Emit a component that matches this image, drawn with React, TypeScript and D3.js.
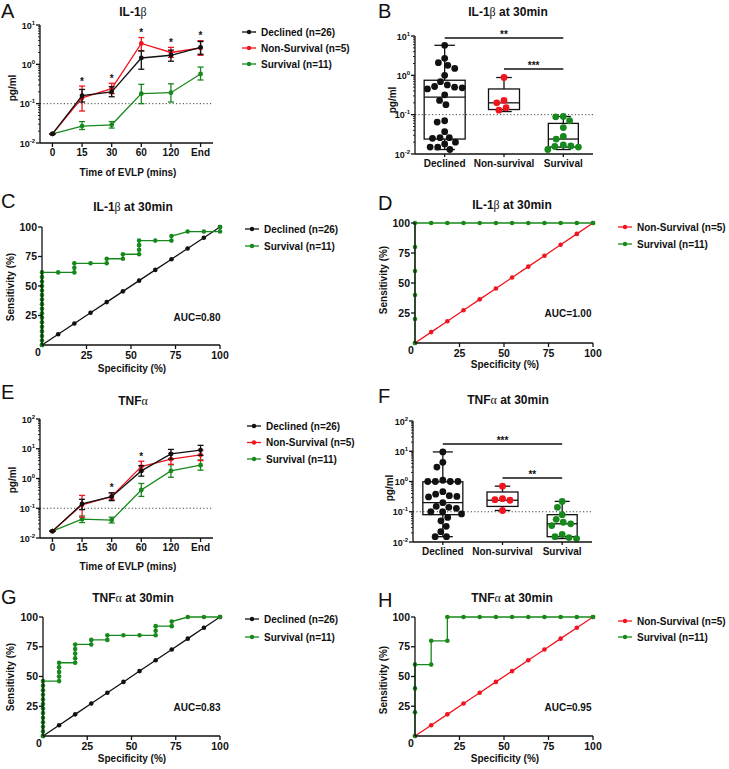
import React from 'react';
import * as d3 from 'd3';

const FONT = 'Arial, "Liberation Sans", Helvetica, sans-serif';
const C_BLACK = '#111';
const C_RED = '#f0141e';
const C_GREEN = '#17891c';

// ---- time course data (panels A, E) ----
const TIMES = ['0', '15', '30', '60', '120', 'End'];

const IL1B_DECL = [0.017, 0.16, 0.2, 1.45, 1.7, 2.7];
const IL1B_DECL_LO = [0.017, 0.11, 0.15, 0.75, 1.2, 1.8];
const IL1B_DECL_HI = [0.017, 0.23, 0.27, 2.2, 2.3, 3.8];
const IL1B_NONS = [0.017, 0.14, 0.24, 3.4, 2.0, 2.6];
const IL1B_NONS_LO = [0.017, 0.065, 0.18, 2.2, 1.5, 1.7];
const IL1B_NONS_HI = [0.017, 0.28, 0.33, 4.8, 2.7, 4.0];
const IL1B_SURV = [0.017, 0.027, 0.029, 0.18, 0.19, 0.57];
const IL1B_SURV_LO = [0.017, 0.022, 0.024, 0.1, 0.11, 0.4];
const IL1B_SURV_HI = [0.017, 0.035, 0.035, 0.31, 0.32, 0.85];
const IL1B_STARS = ['15', '30', '60', '120', 'End'];

const TNF_DECL = [0.017, 0.14, 0.245, 1.8, 6.7, 9.0];
const TNF_DECL_LO = [0.017, 0.09, 0.18, 1.2, 4.5, 6.0];
const TNF_DECL_HI = [0.017, 0.2, 0.33, 2.7, 9.5, 13];
const TNF_NONS = [0.017, 0.13, 0.25, 2.5, 4.5, 6.2];
const TNF_NONS_LO = [0.017, 0.05, 0.2, 1.8, 3.0, 4.0];
const TNF_NONS_HI = [0.017, 0.27, 0.33, 3.8, 7.0, 9.0];
const TNF_SURV = [0.017, 0.043, 0.04, 0.41, 1.8, 2.8];
const TNF_SURV_LO = [0.017, 0.033, 0.032, 0.25, 1.1, 1.9];
const TNF_SURV_HI = [0.017, 0.055, 0.05, 0.68, 2.9, 4.2];
const TNF_STARS = ['30', '60'];

// ---- 30 min scatter / box data (panels B, F) ----
const GROUPS = ['Declined', 'Non-survival', 'Survival'];

const B_DECL = [5.8, 2.7, 2.1, 1.8, 1.5, 1.0, 0.69, 0.57, 0.52, 0.5, 0.48, 0.45, 0.32, 0.23, 0.18,
  0.07, 0.065, 0.037, 0.026, 0.025, 0.026, 0.02, 0.018, 0.015, 0.015, 0.013];
const B_NONS = [0.88, 0.23, 0.2, 0.15, 0.13];
const B_SURV = [0.09, 0.088, 0.07, 0.047, 0.028, 0.024, 0.017, 0.0155, 0.015, 0.016, 0.013];
// min, q1, median, q3, max
const B_DECL_BOX = [0.013, 0.024, 0.28, 0.75, 5.8];
const B_NONS_BOX = [0.12, 0.135, 0.2, 0.45, 0.88];
const B_SURV_BOX = [0.013, 0.015, 0.024, 0.06, 0.09];

const F_DECL = [9.5, 4.3, 3.0, 1.0, 1.0, 1.0, 1.0, 1.1, 0.46, 0.38, 0.34, 0.32, 0.31, 0.2, 0.15,
  0.14, 0.13, 0.1, 0.1, 0.085, 0.065, 0.05, 0.033, 0.022, 0.015, 0.015];
const F_NONS = [0.7, 0.27, 0.25, 0.24, 0.11];
const F_SURV = [0.22, 0.14, 0.08, 0.056, 0.045, 0.04, 0.035, 0.018, 0.015, 0.014, 0.013];
const F_DECL_BOX = [0.015, 0.08, 0.2, 0.98, 9.5];
const F_NONS_BOX = [0.11, 0.15, 0.24, 0.45, 0.7];
const F_SURV_BOX = [0.013, 0.015, 0.04, 0.08, 0.22];

// ---- ROC data (panels C, D, G, H) ----
const ROC_DIAG = [0, 9.09, 18.18, 27.27, 36.36, 45.45, 54.55, 63.64, 72.73, 81.82, 90.91, 100];

const C_SURV_X = [0, 0, 0, 0, 0, 0, 0, 0, 0, 0, 0, 0, 0, 0, 0, 0, 0,
  9.09, 18.18, 18.18, 18.18, 27.27, 36.36, 36.36, 45.45, 45.45, 54.55, 54.55, 54.55, 54.55,
  63.64, 72.73, 72.73, 81.82, 90.91, 100, 100];
const C_SURV_Y = [0, 3.85, 7.69, 11.54, 15.38, 19.23, 23.08, 26.92, 30.77, 34.62, 38.46, 42.31, 46.15, 50, 53.85, 57.69, 61.54,
  61.54, 61.54, 65.38, 69.23, 69.23, 69.23, 73.08, 73.08, 76.92, 76.92, 80.77, 84.62, 88.46,
  88.46, 88.46, 92.31, 96.15, 96.15, 96.15, 100];

const D_SURV_X = [0, 0, 0, 0, 0, 0, 9.09, 18.18, 27.27, 36.36, 45.45, 54.55, 63.64, 72.73, 81.82, 90.91, 100];
const D_SURV_Y = [0, 20, 40, 60, 80, 100, 100, 100, 100, 100, 100, 100, 100, 100, 100, 100, 100];

const G_SURV_X = [0, 0, 0, 0, 0, 0, 0, 0, 0, 0, 0, 0, 0,
  9.09, 9.09, 9.09, 9.09, 9.09, 18.18, 18.18, 18.18, 18.18, 18.18, 27.27, 27.27, 36.36, 36.36,
  45.45, 54.55, 63.64, 63.64, 63.64, 72.73, 72.73, 81.82, 90.91, 100];
const G_SURV_Y = [0, 3.85, 7.69, 11.54, 15.38, 19.23, 23.08, 26.92, 30.77, 34.62, 38.46, 42.31, 46.15,
  46.15, 50, 53.85, 57.69, 61.54, 61.54, 65.38, 69.23, 73.08, 76.92, 76.92, 80.77, 80.77, 84.62,
  84.62, 84.62, 84.62, 88.46, 92.31, 92.31, 96.15, 100, 100, 100];

const H_SURV_X = [0, 0, 0, 0, 9.09, 9.09, 18.18, 18.18, 27.27, 36.36, 45.45, 54.55, 63.64, 72.73, 81.82, 90.91, 100];
const H_SURV_Y = [0, 20, 40, 60, 60, 80, 80, 100, 100, 100, 100, 100, 100, 100, 100, 100, 100];

const SW = 1.3;

function Title({ x, y, pre, greek, post }: any) {
  return (
    <text x={x} y={y} textAnchor="middle" fontSize={12} fontWeight="bold">
      {pre}
      <tspan fontWeight="normal" fontFamily='"Liberation Serif", "DejaVu Serif", serif'>{greek}</tspan>
      {post}
    </text>
  );
}

function Letter({ x, y, t }: any) {
  return <text x={x} y={y} fontSize={20} fontWeight="normal">{t}</text>;
}

function YTitle({ x, y, t }: any) {
  return (
    <text transform={`translate(${x},${y}) rotate(-90)`} textAnchor="middle" fontSize={10} fontWeight="bold" dy="0.35em">{t}</text>
  );
}

function Legend({ x, y, dy, items }: any) {
  return (
    <g>
      {items.map((it: any, i: number) => (
        <g key={i} transform={`translate(${x},${y + i * dy})`}>
          <line x1={0} x2={14} y1={0} y2={0} stroke={it.color} strokeWidth={SW} />
          <circle cx={7} cy={0} r={2.2} fill={it.color} />
          <text x={19} y={3.5} fontSize={10} fontWeight="bold">{it.label}</text>
        </g>
      ))}
    </g>
  );
}

function LogYAxis({ y, x }: any) {
  const ticks: number[] = y.ticks();
  const isMajor = (v: number) => Math.abs(Math.log10(v) - Math.round(Math.log10(v))) < 1e-6;
  const [lo, hi] = y.domain();
  return (
    <g>
      <line x1={x} x2={x} y1={y(hi)} y2={y(lo)} stroke={C_BLACK} strokeWidth={SW} />
      {ticks.map((v, i) => isMajor(v) ? (
        <g key={i}>
          <line x1={x - 4} x2={x} y1={y(v)} y2={y(v)} stroke={C_BLACK} strokeWidth={SW} />
          <text x={x - 5} y={y(v) + 3.5} textAnchor="end" fontSize={9} fontWeight="bold">
            10<tspan dy={-4} fontSize={6}>{Math.round(Math.log10(v))}</tspan>
          </text>
        </g>
      ) : (
        <line key={i} x1={x - 2} x2={x} y1={y(v)} y2={y(v)} stroke={C_BLACK} strokeWidth={0.9} />
      ))}
    </g>
  );
}

function LinePanel({ f, series, stars }: any) {
  const x = d3.scalePoint<string>().domain(TIMES).range([f.x0, f.x1]).padding(0.42);
  const y = d3.scaleLog().domain(f.domain).range([f.yBot, f.yTop]);
  const line = d3.line<number>().x((_, i) => x(TIMES[i])!).y(d => y(d));
  const drawOrder = [...series].reverse();
  return (
    <g>
      <Letter x={f.letter[0]} y={f.letter[1]} t={f.letterText} />
      <Title x={f.title[0]} y={f.title[1]} pre={f.titleText[0]} greek={f.titleText[1]} post={f.titleText[2]} />
      <line x1={f.x0} x2={f.x1} y1={y(0.1)} y2={y(0.1)} stroke="#444" strokeWidth={1} strokeDasharray="1.2,2.2" />
      {drawOrder.map((s: any, si: number) => (
        <g key={si}>
          <path d={line(s.values)!} fill="none" stroke={s.color} strokeWidth={SW} />
          {s.values.map((v: number, i: number) => {
            const cx = x(TIMES[i])!;
            return (
              <g key={i}>
                <line x1={cx} x2={cx} y1={y(s.lo[i])} y2={y(s.hi[i])} stroke={s.color} strokeWidth={SW} />
                <line x1={cx - 3} x2={cx + 3} y1={y(s.lo[i])} y2={y(s.lo[i])} stroke={s.color} strokeWidth={SW} />
                <line x1={cx - 3} x2={cx + 3} y1={y(s.hi[i])} y2={y(s.hi[i])} stroke={s.color} strokeWidth={SW} />
                <circle cx={cx} cy={y(v)} r={2.4} fill={s.color} />
              </g>
            );
          })}
        </g>
      ))}
      {stars.map((t: string) => {
        const i = TIMES.indexOf(t);
        const top = Math.max(...series.map((s: any) => s.hi[i]));
        return <text key={t} x={x(t)!} y={y(top) - 1.5} textAnchor="middle" fontSize={10} fontWeight="bold">*</text>;
      })}
      <LogYAxis y={y} x={f.x0} />
      <line x1={f.x0} x2={f.x1} y1={f.yBot} y2={f.yBot} stroke={C_BLACK} strokeWidth={SW} />
      {TIMES.map(t => (
        <g key={t}>
          <line x1={x(t)!} x2={x(t)!} y1={f.yBot} y2={f.yBot + 4} stroke={C_BLACK} strokeWidth={SW} />
          <text x={x(t)!} y={f.yBot + 13} textAnchor="middle" fontSize={10} fontWeight="bold">{t}</text>
        </g>
      ))}
      <text x={f.xTitle[0]} y={f.xTitle[1]} textAnchor="middle" fontSize={10} fontWeight="bold">Time of EVLP (mins)</text>
      <YTitle x={f.yTitle[0]} y={f.yTitle[1]} t="pg/ml" />
      <Legend x={f.legend[0]} y={f.legend[1]} dy={f.legend[2]}
        items={series.map((s: any) => ({ color: s.color, label: s.label }))} />
    </g>
  );
}

// simple beeswarm: horizontal dodge so dots don't overlap
function swarm(vals: number[], y: any, D: number) {
  const order = vals.map((v, i) => ({ i, py: y(v) })).sort((a, b) => a.py - b.py);
  const placed: { px: number; py: number }[] = [];
  const out: number[] = new Array(vals.length);
  for (const p of order) {
    const blocked: [number, number][] = [];
    for (const q of placed) {
      const dy = Math.abs(q.py - p.py);
      if (dy < D) {
        const w = Math.sqrt(D * D - dy * dy);
        blocked.push([q.px - w, q.px + w]);
      }
    }
    const cands = [0, ...blocked.flatMap(b => [b[0], b[1]])].sort((a, b) => Math.abs(a) - Math.abs(b));
    let px = 0;
    for (const c of cands) {
      if (!blocked.some(b => c > b[0] + 1e-6 && c < b[1] - 1e-6)) { px = c; break; }
    }
    placed.push({ px, py: p.py });
    out[p.i] = px;
  }
  return out;
}

function BoxPanel({ f, groups, sigs }: any) {
  const x = d3.scalePoint<string>().domain(GROUPS).range([f.x0, f.x1]).padding(0.5);
  const y = d3.scaleLog().domain(f.domain).range([f.yBot, f.yTop]);
  return (
    <g>
      <Letter x={f.letter[0]} y={f.letter[1]} t={f.letterText} />
      <Title x={f.title[0]} y={f.title[1]} pre={f.titleText[0]} greek={f.titleText[1]} post={f.titleText[2]} />
      <line x1={f.x0} x2={f.x1} y1={y(0.1)} y2={y(0.1)} stroke="#444" strokeWidth={1} strokeDasharray="1.2,2.2" />
      {groups.map((g: any, gi: number) => {
        const cx = x(GROUPS[gi])!;
        const [mn, q1, md, q3, mx] = g.box.map((v: number) => y(v));
        const w = f.boxW[gi];
        const offs = swarm(g.values, y, 7.6);
        return (
          <g key={gi}>
            <line x1={cx} x2={cx} y1={mx} y2={q3} stroke={C_BLACK} strokeWidth={SW} />
            <line x1={cx} x2={cx} y1={q1} y2={mn} stroke={C_BLACK} strokeWidth={SW} />
            <line x1={cx - w / 4} x2={cx + w / 4} y1={mx} y2={mx} stroke={C_BLACK} strokeWidth={SW} />
            <line x1={cx - w / 4} x2={cx + w / 4} y1={mn} y2={mn} stroke={C_BLACK} strokeWidth={SW} />
            <rect x={cx - w / 2} y={q3} width={w} height={q1 - q3} fill="none" stroke={C_BLACK} strokeWidth={SW} />
            <line x1={cx - w / 2} x2={cx + w / 2} y1={md} y2={md} stroke={C_BLACK} strokeWidth={SW} />
            {g.values.map((v: number, i: number) => (
              <circle key={i} cx={cx + offs[i]} cy={y(v)} r={3.4} fill={g.color} />
            ))}
          </g>
        );
      })}
      {sigs.map((s: any, i: number) => {
        const xa = x(GROUPS[s.from])!;
        const xb = x(GROUPS[s.to])!;
        return (
          <g key={i}>
            <line x1={xa} x2={xb} y1={s.y} y2={s.y} stroke={C_BLACK} strokeWidth={SW} />
            <text x={(xa + xb) / 2} y={s.y - 0.5} textAnchor="middle" fontSize={10} fontWeight="bold">{s.text}</text>
          </g>
        );
      })}
      <LogYAxis y={y} x={f.x0} />
      <line x1={f.x0} x2={f.x1} y1={f.yBot} y2={f.yBot} stroke={C_BLACK} strokeWidth={SW} />
      {GROUPS.map(gname => (
        <g key={gname}>
          <line x1={x(gname)!} x2={x(gname)!} y1={f.yBot} y2={f.yBot + 3} stroke={C_BLACK} strokeWidth={SW} />
          <text x={x(gname)!} y={f.yBot + 13} textAnchor="middle" fontSize={10} fontWeight="bold">{gname}</text>
        </g>
      ))}
      <YTitle x={f.yTitle[0]} y={f.yTitle[1]} t="pg/ml" />
    </g>
  );
}

function RocPanel({ f, refSeries, curve }: any) {
  const x = d3.scaleLinear().domain([0, 100]).range([f.x0, f.x1]);
  const y = d3.scaleLinear().domain([0, 100]).range([f.y0, f.y1]);
  const line = d3.line<[number, number]>().x(d => x(d[0])).y(d => y(d[1]));
  const refPts: [number, number][] = refSeries.xs.map((v: number, i: number) => [v, refSeries.ys[i]]);
  const curvePts: [number, number][] = curve.xs.map((v: number, i: number) => [v, curve.ys[i]]);
  const ticks = [25, 50, 75, 100];
  return (
    <g>
      <Letter x={f.letter[0]} y={f.letter[1]} t={f.letterText} />
      <Title x={f.title[0]} y={f.title[1]} pre={f.titleText[0]} greek={f.titleText[1]} post={f.titleText[2]} />
      <path d={line(refPts)!} fill="none" stroke={refSeries.color} strokeWidth={SW} />
      {refPts.map((p, i) => <circle key={i} cx={x(p[0])} cy={y(p[1])} r={2.3} fill={refSeries.color} />)}
      <path d={line(curvePts)!} fill="none" stroke={curve.color} strokeWidth={SW} />
      {curvePts.map((p, i) => <circle key={i} cx={x(p[0])} cy={y(p[1])} r={2.3} fill={curve.color} />)}
      <line x1={f.x0} x2={f.x0} y1={f.y0} y2={f.y1} stroke={C_BLACK} strokeWidth={SW} />
      <line x1={f.x0} x2={f.x1} y1={f.y0} y2={f.y0} stroke={C_BLACK} strokeWidth={SW} />
      {ticks.map(t => (
        <g key={t}>
          <line x1={f.x0 - 4} x2={f.x0} y1={y(t)} y2={y(t)} stroke={C_BLACK} strokeWidth={SW} />
          <text x={f.x0 - 5} y={y(t) + 3.6} textAnchor="end" fontSize={10.5} fontWeight="bold">{t}</text>
          <line x1={x(t)} x2={x(t)} y1={f.y0} y2={f.y0 + 4} stroke={C_BLACK} strokeWidth={SW} />
          <text x={x(t)} y={f.y0 + 13.5} textAnchor="middle" fontSize={10.5} fontWeight="bold">{t}</text>
        </g>
      ))}
      <text x={f.x0 - 4} y={f.y0 + 11} textAnchor="middle" fontSize={10.5} fontWeight="bold">0</text>
      <text x={f.xTitle[0]} y={f.xTitle[1]} textAnchor="middle" fontSize={10} fontWeight="bold">Specificity (%)</text>
      <YTitle x={f.yTitle[0]} y={f.yTitle[1]} t="Sensitivity (%)" />
      <text x={f.auc[0]} y={f.auc[1]} textAnchor="middle" fontSize={10} fontWeight="bold">{f.aucText}</text>
      <Legend x={f.legend[0]} y={f.legend[1]} dy={f.legend[2]}
        items={[{ color: refSeries.color, label: refSeries.label }, { color: curve.color, label: curve.label }]} />
    </g>
  );
}

export default function App() {
  const il1bSeries = [
    { label: 'Declined (n=26)', color: C_BLACK, values: IL1B_DECL, lo: IL1B_DECL_LO, hi: IL1B_DECL_HI },
    { label: 'Non-Survival (n=5)', color: C_RED, values: IL1B_NONS, lo: IL1B_NONS_LO, hi: IL1B_NONS_HI },
    { label: 'Survival (n=11)', color: C_GREEN, values: IL1B_SURV, lo: IL1B_SURV_LO, hi: IL1B_SURV_HI },
  ];
  const tnfSeries = [
    { label: 'Declined (n=26)', color: C_BLACK, values: TNF_DECL, lo: TNF_DECL_LO, hi: TNF_DECL_HI },
    { label: 'Non-Survival (n=5)', color: C_RED, values: TNF_NONS, lo: TNF_NONS_LO, hi: TNF_NONS_HI },
    { label: 'Survival (n=11)', color: C_GREEN, values: TNF_SURV, lo: TNF_SURV_LO, hi: TNF_SURV_HI },
  ];
  const bGroups = [
    { color: C_BLACK, values: B_DECL, box: B_DECL_BOX },
    { color: C_RED, values: B_NONS, box: B_NONS_BOX },
    { color: C_GREEN, values: B_SURV, box: B_SURV_BOX },
  ];
  const fGroups = [
    { color: C_BLACK, values: F_DECL, box: F_DECL_BOX },
    { color: C_RED, values: F_NONS, box: F_NONS_BOX },
    { color: C_GREEN, values: F_SURV, box: F_SURV_BOX },
  ];
  const declRef = { label: 'Declined (n=26)', color: C_BLACK, xs: ROC_DIAG, ys: ROC_DIAG };
  const nonsRef = { label: 'Non-Survival (n=5)', color: C_RED, xs: ROC_DIAG, ys: ROC_DIAG };
  const survLabel = 'Survival (n=11)';

  return (
    <svg width={729} height={769} style={{ position: 'absolute', left: 0, top: 0, background: '#fff' }}
      fontFamily={FONT} fill={C_BLACK}>
      <LinePanel
        f={{ x0: 40, x1: 213, yTop: 25, yBot: 143, domain: [0.01, 10], letter: [1, 18], letterText: 'A',
          title: [133, 16], titleText: ['IL-1', 'β', ''], xTitle: [128, 176], yTitle: [12, 88], legend: [242, 32, 16] }}
        series={il1bSeries} stars={IL1B_STARS} />
      <BoxPanel
        f={{ x0: 415, x1: 593, yTop: 36, yBot: 154, domain: [0.01, 10], letter: [378, 18], letterText: 'B',
          title: [508, 16], titleText: ['IL-1', 'β', ' at 30min'], yTitle: [392, 100], boxW: [41, 31, 30] }}
        groups={bGroups}
        sigs={[{ from: 0, to: 2, y: 38, text: '**' }, { from: 1, to: 2, y: 69, text: '***' }]} />
      <RocPanel
        f={{ x0: 42, x1: 220, y0: 345, y1: 227, letter: [1, 208], letterText: 'C', title: [133, 211],
          titleText: ['IL-1', 'β', ' at 30min'], xTitle: [132, 372], yTitle: [10, 287], auc: [197, 321],
          aucText: 'AUC=0.80', legend: [245, 229, 17] }}
        refSeries={declRef} curve={{ label: survLabel, color: C_GREEN, xs: C_SURV_X, ys: C_SURV_Y }} />
      <RocPanel
        f={{ x0: 415, x1: 593, y0: 343, y1: 223, letter: [378, 210], letterText: 'D', title: [512, 209],
          titleText: ['IL-1', 'β', ' at 30min'], xTitle: [505, 368], yTitle: [383, 280], auc: [568, 317],
          aucText: 'AUC=1.00', legend: [618, 227, 17] }}
        refSeries={nonsRef} curve={{ label: survLabel, color: C_GREEN, xs: D_SURV_X, ys: D_SURV_Y }} />
      <LinePanel
        f={{ x0: 40, x1: 213, yTop: 419, yBot: 538, domain: [0.01, 100], letter: [1, 399], letterText: 'E',
          title: [133, 405], titleText: ['TNF', 'α', ''], xTitle: [128, 570], yTitle: [12, 480], legend: [247, 426, 16.5] }}
        series={tnfSeries} stars={TNF_STARS} />
      <BoxPanel
        f={{ x0: 413, x1: 592, yTop: 421, yBot: 542, domain: [0.01, 100], letter: [378, 403], letterText: 'F',
          title: [508, 404], titleText: ['TNF', 'α', ' at 30min'], yTitle: [389, 488], boxW: [40, 31, 30] }}
        groups={fGroups}
        sigs={[{ from: 0, to: 2, y: 444, text: '***' }, { from: 1, to: 2, y: 478, text: '**' }]} />
      <RocPanel
        f={{ x0: 43, x1: 220, y0: 736, y1: 617, letter: [1, 604], letterText: 'G', title: [133, 602],
          titleText: ['TNF', 'α', ' at 30min'], xTitle: [132, 762], yTitle: [10, 677], auc: [197, 711],
          aucText: 'AUC=0.83', legend: [245, 619, 18] }}
        refSeries={declRef} curve={{ label: survLabel, color: C_GREEN, xs: G_SURV_X, ys: G_SURV_Y }} />
      <RocPanel
        f={{ x0: 415, x1: 593, y0: 736, y1: 617, letter: [378, 607], letterText: 'H', title: [512, 602],
          titleText: ['TNF', 'α', ' at 30min'], xTitle: [505, 762], yTitle: [383, 680], auc: [568, 711],
          aucText: 'AUC=0.95', legend: [618, 621, 16] }}
        refSeries={nonsRef} curve={{ label: survLabel, color: C_GREEN, xs: H_SURV_X, ys: H_SURV_Y }} />
    </svg>
  );
}
